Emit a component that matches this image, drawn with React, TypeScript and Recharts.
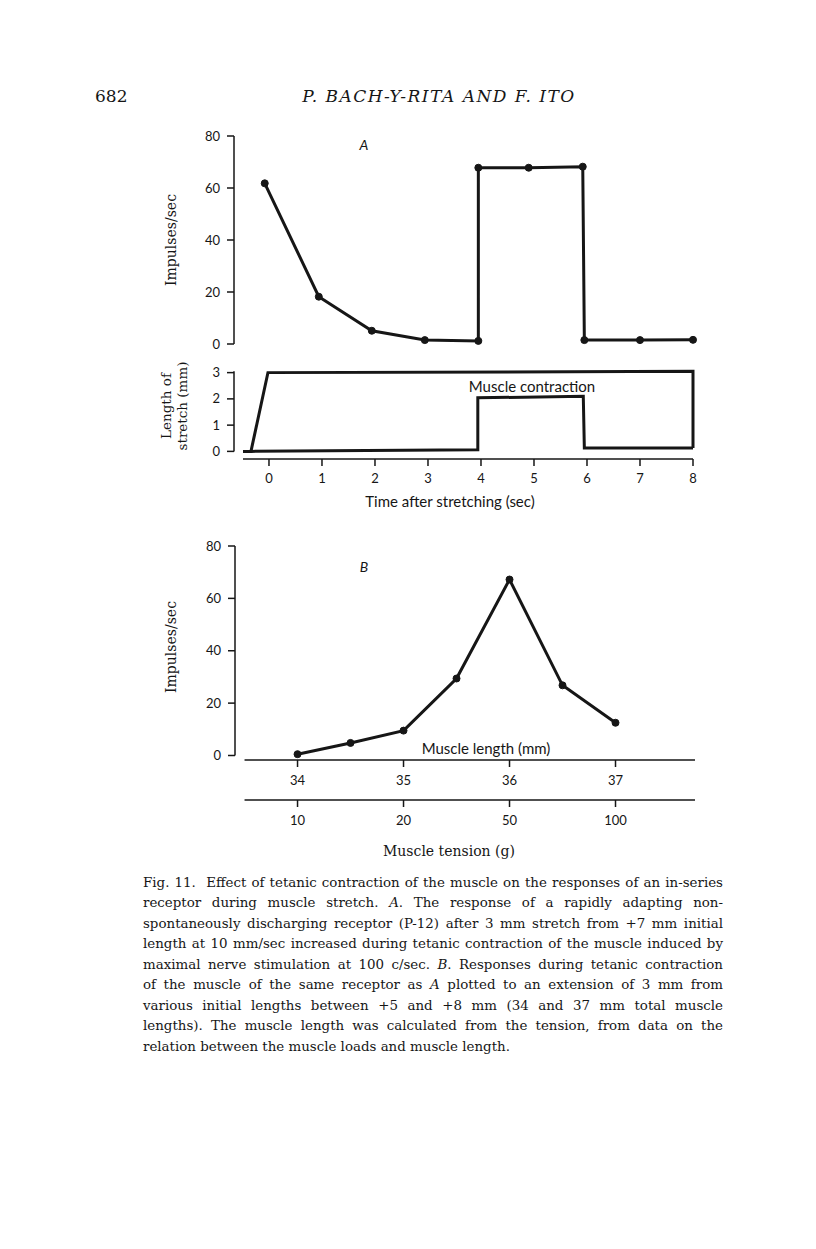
import React from 'react'
import { LineChart, Line, XAxis, YAxis, ReferenceLine } from 'recharts'

// A (upper): discharge rate against time after stretching
const respTime = [-0.08, 0.94, 1.94, 2.94, 3.95, 3.95, 4.9, 5.92, 5.95, 7.0, 8.0]
const respRate = [61.8, 18.2, 5.1, 1.5, 1.2, 67.8, 67.8, 68.2, 1.5, 1.5, 1.6]

// A (lower): stretch and contraction traces
const stretchTime = [-0.49, -0.34, -0.02, 8.0, 8.0]
const stretchLen = [0, 0, 3.0, 3.05, 0.13]
const contrTime = [-0.34, 3.94, 3.94, 5.93, 5.95, 8.0]
const contrLen = [0, 0.06, 2.04, 2.1, 0.13, 0.13]

const timeTicks = [0, 1, 2, 3, 4, 5, 6, 7, 8]
const rateTicks = [0, 20, 40, 60, 80]
const lenTicks = [0, 1, 2, 3]

// B: discharge rate against muscle length
const muscleLength = [34, 34.5, 35, 35.5, 36, 36.5, 37]
const muscleRate = [0.5, 4.8, 9.5, 29.4, 67.2, 26.8, 12.5]
const lengthTicks = [34, 35, 36, 37]
const tensionLabels = ['10', '20', '50', '100']

const captionLines = [
  'Fig. 11.\u00a0 Effect of tetanic contraction of the muscle on the responses of an in-series',
  'receptor during muscle stretch. |A|. The response of a rapidly adapting non-',
  'spontaneously discharging receptor (P-12) after 3 mm stretch from +7 mm initial',
  'length at 10 mm/sec increased during tetanic contraction of the muscle induced by',
  'maximal nerve stimulation at 100 c/sec. |B|. Responses during tetanic contraction',
  'of the muscle of the same receptor as |A| plotted to an extension of 3 mm from',
  'various initial lengths between +5 and +8 mm (34 and 37 mm total muscle',
  'lengths). The muscle length was calculated from the tension, from data on the',
  'relation between the muscle loads and muscle length.',
]

const INK = '#161616'
const SANS = 'Lato, "Open Sans", sans-serif'
const SERIF = '"DejaVu Serif", serif'

const zip = (xs: number[], ys: number[]) => xs.map((t, i) => ({ t, v: ys[i] }))

const respData = zip(respTime, respRate)
const stretchData = zip(stretchTime, stretchLen)
const contrData = zip(contrTime, contrLen)
const muscleData = zip(muscleLength, muscleRate)

const tickStyle = { fontSize: 13, fill: INK, fontFamily: SANS }
const axisStroke = { stroke: INK, strokeWidth: 1.5 }
const dotStyle = { r: 3.5, fill: INK, stroke: INK, strokeWidth: 1 }

function Txt({ x, y, size, family, italic, rotate, children }: any) {
  return (
    <div
      style={{
        position: 'absolute',
        left: x,
        top: y,
        transform: `translate(-50%, -50%)${rotate ? ' rotate(-90deg)' : ''}`,
        whiteSpace: 'nowrap',
        fontSize: size,
        fontFamily: family,
        fontStyle: italic ? 'italic' : 'normal',
        color: INK,
        lineHeight: 1.15,
        textAlign: 'center',
      }}
    >
      {children}
    </div>
  )
}

function CaptionLine({ text, last }: { text: string; last: boolean }) {
  const parts = text.split('|')
  return (
    <div
      style={{
        whiteSpace: 'nowrap',
        textAlign: last ? 'left' : 'justify',
        textAlignLast: last ? 'left' : 'justify',
        height: 20.45,
        lineHeight: '20.45px',
      }}
    >
      {parts.map((p, i) => (i % 2 === 1 ? <i key={i}>{p}</i> : <span key={i}>{p}</span>))}
    </div>
  )
}

export default function App() {
  return (
    <div
      style={{
        position: 'absolute',
        left: 0,
        top: 0,
        width: 816,
        height: 1249,
        background: '#fff',
        color: INK,
      }}
    >
      {/* running head */}
      <div style={{ position: 'absolute', left: 95, top: 86, fontFamily: SERIF, fontSize: 17, lineHeight: '20px' }}>
        682
      </div>
      <div
        style={{
          position: 'absolute',
          left: 258,
          top: 86,
          width: 362,
          fontFamily: SERIF,
          fontStyle: 'italic',
          fontSize: 17,
          lineHeight: '20px',
          letterSpacing: 1.5,
          textAlign: 'center',
          whiteSpace: 'nowrap',
        }}
      >
        P. BACH-Y-RITA AND F. ITO
      </div>

      {/* A, response */}
      <div style={{ position: 'absolute', left: 150, top: 126 }}>
        <LineChart width={560} height={232} data={respData} margin={{ top: 10, right: 17, bottom: 14, left: 0 }}>
          <XAxis type="number" dataKey="t" domain={[-0.66, 8]} hide />
          <YAxis
            type="number"
            domain={[0, 80]}
            ticks={rateTicks}
            interval={0}
            width={84}
            tickSize={7}
            tickMargin={7}
            tick={tickStyle}
            axisLine={axisStroke}
            tickLine={axisStroke}
          />
          <Line type="linear" dataKey="v" stroke={INK} strokeWidth={3} dot={dotStyle} isAnimationActive={false} />
        </LineChart>
      </div>
      <Txt x={364} y={145} size={14} family={SANS} italic>A</Txt>
      <Txt x={171} y={240} size={14} family={SERIF} rotate>Impulses/sec</Txt>

      {/* A, stretch */}
      <div style={{ position: 'absolute', left: 150, top: 360 }}>
        <LineChart width={560} height={130} margin={{ top: 10, right: 17, bottom: 1, left: 0 }}>
          <XAxis
            type="number"
            dataKey="t"
            domain={[-0.66, 8]}
            ticks={timeTicks}
            interval={0}
            height={30}
            tickSize={7}
            tickMargin={8}
            tick={tickStyle}
            axisLine={false}
            tickLine={axisStroke}
          />
          <YAxis
            type="number"
            domain={[-0.29, 3.1]}
            ticks={lenTicks}
            interval={0}
            width={84}
            tickSize={7}
            tickMargin={7}
            tick={tickStyle}
            axisLine={false}
            tickLine={axisStroke}
          />
          <ReferenceLine segment={[{ x: -0.66, y: 0 }, { x: -0.66, y: 3.05 }]} stroke={INK} strokeWidth={1.5} />
          <ReferenceLine segment={[{ x: -0.49, y: -0.29 }, { x: 8, y: -0.29 }]} stroke={INK} strokeWidth={1.5} />
          <Line data={stretchData} type="linear" dataKey="v" stroke={INK} strokeWidth={3} dot={false} isAnimationActive={false} />
          <Line data={contrData} type="linear" dataKey="v" stroke={INK} strokeWidth={3} dot={false} isAnimationActive={false} />
        </LineChart>
      </div>
      <Txt x={175} y={406} size={13.5} family={SERIF} rotate>
        Length of
        <br />
        stretch (mm)
      </Txt>
      <Txt x={532} y={387} size={15} family={SANS}>Muscle contraction</Txt>
      <Txt x={450} y={502} size={15} family={SANS}>Time after stretching (sec)</Txt>

      {/* B */}
      <div style={{ position: 'absolute', left: 150, top: 536 }}>
        <LineChart width={560} height={300} data={muscleData} margin={{ top: 10, right: 15, bottom: 0, left: 0 }}>
          <XAxis
            xAxisId="len"
            type="number"
            dataKey="t"
            domain={[33.41, 37.75]}
            ticks={lengthTicks}
            interval={0}
            height={40}
            tickSize={7}
            tickMargin={9}
            tick={tickStyle}
            axisLine={false}
            tickLine={axisStroke}
          />
          <XAxis
            xAxisId="ten"
            type="number"
            dataKey="t"
            domain={[33.41, 37.75]}
            ticks={lengthTicks}
            interval={0}
            tickFormatter={(v: number) => tensionLabels[lengthTicks.indexOf(v)] ?? ''}
            height={36}
            tickSize={7}
            tickMargin={9}
            tick={tickStyle}
            axisLine={false}
            tickLine={axisStroke}
          />
          <YAxis
            type="number"
            domain={[-1.72, 80]}
            ticks={rateTicks}
            interval={0}
            width={85}
            tickSize={7}
            tickMargin={7}
            tick={tickStyle}
            axisLine={false}
            tickLine={axisStroke}
          />
          <ReferenceLine xAxisId="len" segment={[{ x: 33.41, y: 0 }, { x: 33.41, y: 80 }]} stroke={INK} strokeWidth={1.5} />
          <ReferenceLine xAxisId="len" segment={[{ x: 33.5, y: -1.72 }, { x: 37.75, y: -1.72 }]} stroke={INK} strokeWidth={1.5} />
          <ReferenceLine
            xAxisId="len"
            segment={[{ x: 33.5, y: -17.0 }, { x: 37.75, y: -17.0 }]}
            stroke={INK}
            strokeWidth={1.5}
            ifOverflow="visible"
          />
          <Line xAxisId="len" type="linear" dataKey="v" stroke={INK} strokeWidth={3} dot={dotStyle} isAnimationActive={false} />
        </LineChart>
      </div>
      <Txt x={364} y={567} size={14} family={SANS} italic>B</Txt>
      <Txt x={171} y={647} size={14} family={SERIF} rotate>Impulses/sec</Txt>
      <Txt x={486} y={749} size={15} family={SANS}>Muscle length (mm)</Txt>
      <Txt x={449} y={851} size={14} family={SERIF}>Muscle tension (g)</Txt>

      {/* caption */}
      <div style={{ position: 'absolute', left: 143, top: 873, width: 580, fontFamily: SERIF, fontSize: 13.4, color: INK }}>
        {captionLines.map((l, i) => (
          <CaptionLine key={i} text={l} last={i === captionLines.length - 1} />
        ))}
      </div>
    </div>
  )
}
